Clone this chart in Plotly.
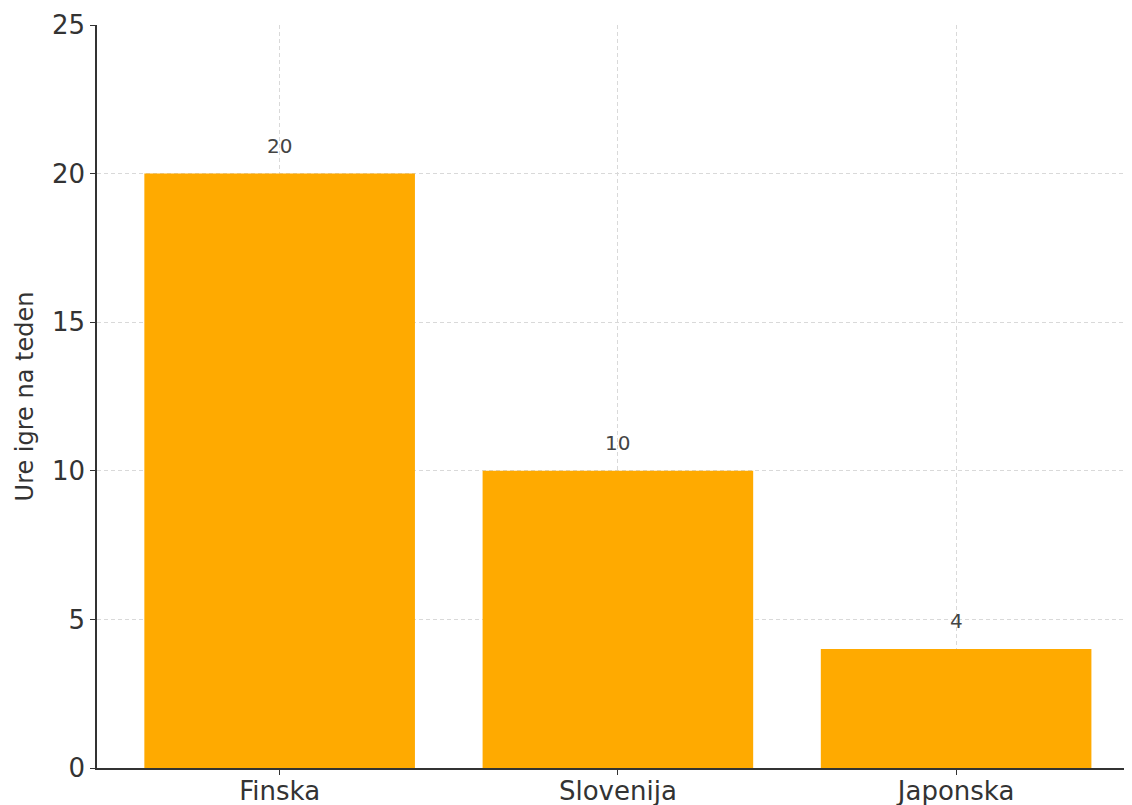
import plotly.graph_objects as go

categories = ["Finska", "Slovenija", "Japonska"]
values = [20, 10, 4]
y_ticks = [0, 5, 10, 15, 20, 25]
y_label = "Ure igre na teden"

bar_color = "#FFAA00"
font_family = "DejaVu Sans, Verdana, sans-serif"

fig = go.Figure()
fig.add_trace(go.Bar(
    x=list(range(len(categories))),
    y=values,
    width=0.8,
    marker=dict(color=bar_color, line=dict(width=0)),
    hoverinfo="skip",
))

for i, v in enumerate(values):
    fig.add_annotation(
        x=i, y=v, xref="x", yref="y",
        text=str(v), showarrow=False,
        yanchor="bottom", yshift=14,
        font=dict(family=font_family, size=20, color="#444444"),
    )

# page body adds an 8px offset; figure sized to fit the window
fig.update_layout(
    width=1124, height=797,
    margin=dict(l=89, r=0, t=17, b=37),
    paper_bgcolor="white", plot_bgcolor="white",
    showlegend=False,
    font=dict(family=font_family, color="#333333"),
    bargap=0.2,
)

fig.update_xaxes(
    range=[-0.54, 2.52],
    automargin=False,
    tickmode="array",
    tickvals=list(range(len(categories))),
    ticktext=categories,
    tickfont=dict(size=26, color="#333333"),
    ticks="outside", ticklen=5, tickwidth=1.2, tickcolor="#333333",
    ticklabelstandoff=-6,
    showline=True, linecolor="#333333", linewidth=1.5,
    showgrid=True, gridcolor="#d9d9d9", gridwidth=1, griddash="4px,3px",
    zeroline=False,
)
fig.update_yaxes(
    range=[0, 25],
    automargin=False,
    tickmode="array",
    tickvals=y_ticks,
    ticktext=[str(t) for t in y_ticks],
    tickfont=dict(size=26, color="#333333"),
    ticks="outside", ticklen=5, tickwidth=1.2, tickcolor="#333333",
    showline=True, linecolor="#333333", linewidth=1.5,
    showgrid=True, gridcolor="#d9d9d9", gridwidth=1, griddash="4px,3px",
    zeroline=False,
    title=dict(text=y_label, font=dict(size=24, color="#333333"), standoff=12),
)

fig.write_html("out.html")
